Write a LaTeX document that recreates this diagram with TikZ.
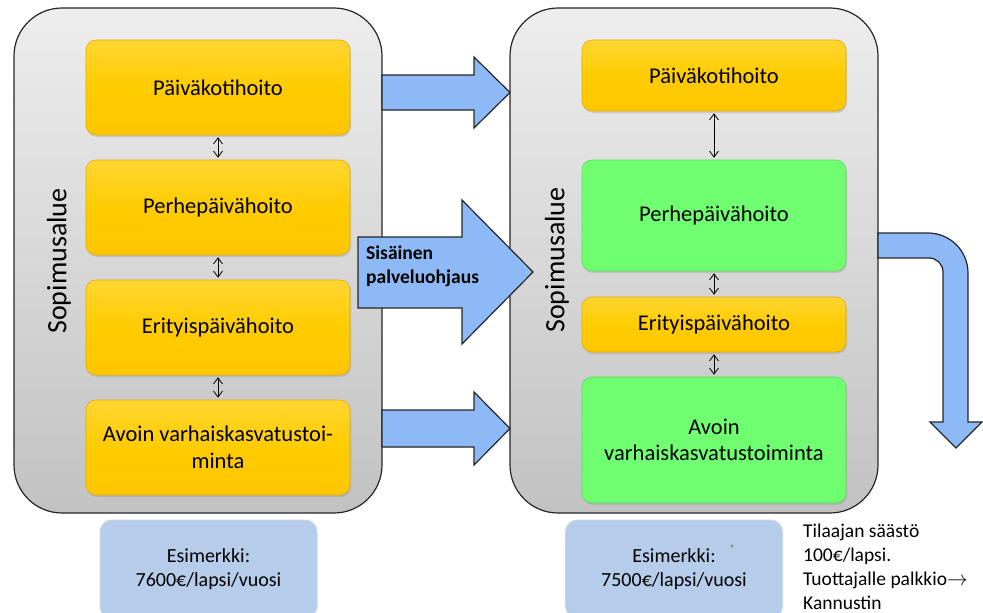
\documentclass[tikz,border=0pt]{standalone}
\usepackage{fontspec}
\setmainfont{Carlito}
\usetikzlibrary{arrows.meta,shadows}
\definecolor{boxyellow}{HTML}{FFCC00}
\definecolor{boxgreen}{HTML}{70FF70}
\definecolor{flowblue}{HTML}{8DB9F6}
\definecolor{noteblue}{HTML}{B5CDEB}
\begin{document}
\begin{tikzpicture}
[x=1pt,y=-1pt,
  areadecorate/.style={shape=rectangle,draw=black!85,line width=1.2pt,rounded corners=48pt,
    top color=black!7,bottom color=black!24,minimum width=368pt,minimum height=505pt,inner sep=0pt},%
  arealabel/.style={rotate=90,font=\fontsize{28}{32}\selectfont},%
  servicedecorate/.style={shape=rectangle,rounded corners=10pt,minimum width=264pt,inner sep=0pt,
    align=center,font=\fontsize{22.5}{26.5}\selectfont,line width=0.6pt,
    drop shadow={opacity=0.25,shadow xshift=1pt,shadow yshift=-2pt}},%
  yellow/.style={servicedecorate,top color=boxyellow!80!white,bottom color=boxyellow!92!orange,
    middle color=boxyellow,draw=boxyellow!80!orange!90!black},%
  green/.style={servicedecorate,fill=boxgreen,draw=boxgreen!85!black},%
  flowdecorate/.style={fill=flowblue,draw=black!85,line width=1.2pt,line join=miter},%
  pairdecorate/.style={{Straight Barb[length=6pt,width=9pt]}-{Straight Barb[length=6pt,width=9pt]},
    line width=0.8pt,shorten <=2pt,shorten >=2pt},%
  notedecorate/.style={shape=rectangle,rounded corners=12pt,fill=noteblue,draw=noteblue!80!white,
    line width=1pt,minimum width=217pt,minimum height=98pt,inner sep=0pt,align=center,
    font=\fontsize{20}{24}\selectfont}]
\useasboundingbox (0,0) rectangle (983,613);
%% areas
\node (leftarea) at (198,260.5) [areadecorate] {};
\node (rightarea) at (694,260.5) [areadecorate] {};
\node (leftlabel) at (59,261) [arealabel] {Sopimusalue};
\node (rightlabel) at (557,260) [arealabel] {Sopimusalue};
%% services
\foreach \nodename/\x/\y/\h/\look/\caption in {
  lp1/218/87.5/95/yellow/{Päiväkotihoito},
  lp2/218/207.5/95/yellow/{Perhepäivähoito},
  lp3/218/327.5/95/yellow/{Erityispäivähoito},
  lp4/218/447.5/95/yellow/{Avoin varhaiskasvatustoi-\\minta},
  rp1/714/75.5/71/yellow/{Päiväkotihoito},
  rp2/714/215.5/111/green/{Perhepäivähoito},
  rp3/714/324.5/55/yellow/{Erityispäivähoito},
  rp4/714/440/126/green/{Avoin\\varhaiskasvatustoiminta}} {
  \node (\nodename) at (\x,\y) [\look,minimum height=\h pt] {\caption};
}
%% links inside the areas
\foreach \startnode/\endnode in {lp1/lp2, lp2/lp3, lp3/lp4, rp1/rp2, rp2/rp3, rp3/rp4} {
  \draw[pairdecorate] (\startnode) -- (\endnode);
}
%% block arrows
\filldraw[flowdecorate] (382,75) -- (474,75) -- (474,57) -- (510,92.5) -- (474,128)
  -- (474,110) -- (382,110) -- cycle;
\filldraw[flowdecorate] (358,237) -- (462,237) -- (462,200) -- (533,272) -- (462,344)
  -- (462,308) -- (358,308) -- cycle;
\filldraw[flowdecorate] (382,410) -- (474,410) -- (474,392) -- (510,428.5) -- (474,465)
  -- (474,447) -- (382,447) -- cycle;
\filldraw[flowdecorate] (878,233) [rounded corners=40pt] -- (968,233) [sharp corners]
  -- (968,422) -- (982,422) -- (956,448) -- (930,422) -- (943,422)
  [rounded corners=14pt] -- (943,258) [sharp corners] -- (878,258) -- cycle;
\node (guidance) at (366,266) [anchor=west,align=left,font=\bfseries\fontsize{19.5}{24}\selectfont,inner sep=0pt]
  {Sisäinen\\palveluohjaus};
%% examples
\node (leftnote) at (208.5,569) [notedecorate] {Esimerkki:\\7600€/lapsi/vuosi};
\node (rightnote) at (674,569) [notedecorate] {Esimerkki:\\7500€/lapsi/vuosi};
\fill[black!45] (732,546) circle (1.6pt);
\node (saving) at (803,524) [anchor=north west,align=left,inner sep=0pt,font=\fontsize{19.5}{24}\selectfont]
  {Tilaajan säästö\\100€/lapsi.\\Tuottajalle palkkio$\rightarrow$\\Kannustin};
\end{tikzpicture}
\end{document}
